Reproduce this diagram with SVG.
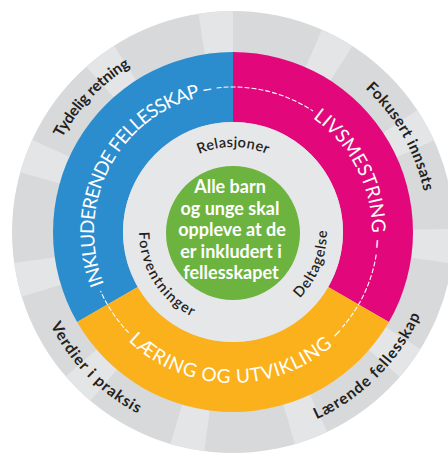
<svg xmlns="http://www.w3.org/2000/svg" width="448" height="453" viewBox="0 0 448 453">
<style>
.lbl{font-family:Lato,"Open Sans","Liberation Sans",sans-serif;}
.outer{font-size:15.5px;fill:#231f20;font-weight:700;}
.inner{font-size:14.5px;fill:#231f20;font-weight:600;}
.band{font-size:19px;fill:#ffffff;}
.center{font-size:18px;fill:#ffffff;font-weight:700;text-anchor:middle;}
.conn{fill:none;stroke:#ffffff;stroke-width:1.1;stroke-dasharray:5 2;}
</style>
<defs>
<path id="pInk" d="M143.65 338.47 A139 139 0 0 1 280.54 101.38"/>
<path id="pLiv" d="M247.53 93.76 A139 139 0 0 1 345.45 313.70"/>
<path id="pLar" d="M85.30 263.39 A151 151 0 0 0 382.53 253.02"/>
<path id="pTyd" d="M46.03 287.38 A195 195 0 0 1 278.52 42.39"/>
<path id="pFok" d="M234.02 37.00 A195 195 0 0 1 401.36 330.38"/>
<path id="pVer" d="M35.27 177.91 A205 205 0 0 0 285.02 430.29"/>
<path id="pLae" d="M179.94 430.02 A205 205 0 0 0 431.02 178.94"/>
<path id="pRel" d="M153.13 202.93 A85 85 0 0 1 312.87 202.93"/>
<path id="pFor" d="M150.00 187.87 A94 94 0 0 0 236.28 325.94"/>
<path id="pDel" d="M246.08 325.09 A94 94 0 0 0 307.07 174.13"/>
</defs>

<g id="outer-ring">
<circle cx="233" cy="232" r="221" fill="#d8d9da"/>
<circle cx="233" cy="232" r="200.5" fill="none" stroke="#e4e5e6" stroke-width="41" stroke-dasharray="31.5 83.03" transform="rotate(-99 233 232)"/>
</g>

<g id="node-inkluderende">
<path d="M77.12 322 A180 180 0 0 1 233 52 L233 122 A110 110 0 0 0 137.74 287 Z" fill="#2b8dce"/>
<text class="lbl band"><textPath href="#pInk" startOffset="50%" text-anchor="middle" textLength="252" lengthAdjust="spacing">INKLUDERENDE FELLESSKAP –</textPath></text>
</g>
<g id="node-livsmestring">
<path d="M233 52 A180 180 0 0 1 388.88 322 L328.26 287 A110 110 0 0 0 233 122 Z" fill="#e2087c"/>
<text class="lbl band"><textPath href="#pLiv" startOffset="50%" text-anchor="middle" textLength="150" lengthAdjust="spacing">LIVSMESTRING –</textPath></text>
</g>
<g id="node-laering">
<path d="M388.88 322 A180 180 0 0 1 77.12 322 L137.74 287 A110 110 0 0 0 328.26 287 Z" fill="#fbb11b"/>
<text class="lbl band"><textPath href="#pLar" startOffset="50%" text-anchor="middle" textLength="242" lengthAdjust="spacing">LÆRING OG UTVIKLING –</textPath></text>
</g>

<g id="connectors">
<path class="conn" d="M216.59 87.93 A145 145 0 0 1 313.03 111.09"/>
<path class="conn" d="M376.21 254.68 A145 145 0 0 1 342.43 327.13"/>
<path class="conn" d="M128.70 332.73 A145 145 0 0 1 100.54 290.98"/>
</g>

<g id="inner-ring">
<circle cx="233" cy="232" r="110" fill="#e6e7e8"/>
</g>
<g id="node-relasjoner">
<text class="lbl inner"><textPath href="#pRel" startOffset="50%" text-anchor="middle" textLength="70" lengthAdjust="spacing">Relasjoner</textPath></text>
</g>
<g id="node-forventninger">
<text class="lbl inner"><textPath href="#pFor" startOffset="50%" text-anchor="middle" textLength="105" lengthAdjust="spacing">Forventninger</textPath></text>
</g>
<g id="node-deltagelse">
<text class="lbl inner"><textPath href="#pDel" startOffset="50%" text-anchor="middle" textLength="75" lengthAdjust="spacing">Deltagelse</textPath></text>
</g>

<g id="node-center">
<circle cx="233" cy="233" r="67" fill="#6db33f"/>
<text class="lbl center" x="230" y="193">Alle barn</text>
<text class="lbl center" x="230" y="215">og unge skal</text>
<text class="lbl center" x="232" y="236">oppleve at de</text>
<text class="lbl center" x="231" y="258">er inkludert i</text>
<text class="lbl center" x="231" y="279">fellesskapet</text>
</g>

<g id="node-tydelig">
<text class="lbl outer"><textPath href="#pTyd" startOffset="50%" text-anchor="middle" textLength="100" lengthAdjust="spacing">Tydelig retning</textPath></text>
</g>
<g id="node-fokusert">
<text class="lbl outer"><textPath href="#pFok" startOffset="50%" text-anchor="middle" textLength="120" lengthAdjust="spacing">Fokusert innsats</textPath></text>
</g>
<g id="node-verdier">
<text class="lbl outer"><textPath href="#pVer" startOffset="50%" text-anchor="middle" textLength="126" lengthAdjust="spacing">Verdier i praksis</textPath></text>
</g>
<g id="node-laerende">
<text class="lbl outer"><textPath href="#pLae" startOffset="50%" text-anchor="middle" textLength="150" lengthAdjust="spacing">Lærende fellesskap</textPath></text>
</g>
</svg>
